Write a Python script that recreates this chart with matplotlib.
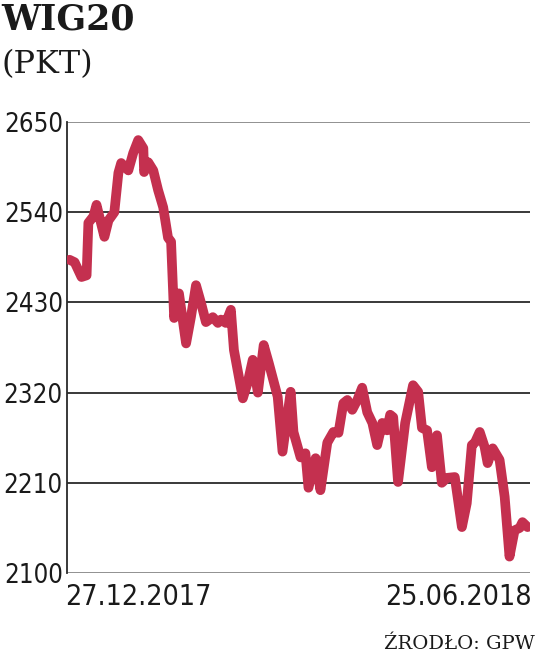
import matplotlib.pyplot as plt

# WIG20, punkty; dni od 27.12.2017
dni = [0, 2.0, 4.7, 6.7, 7.4, 9.4, 10.6, 11.7, 13.7, 15.3, 17.6, 19.2, 20.3, 23.1,
       25.0, 27.0, 29.0, 29.3, 30.9, 32.9, 34.8, 36.8, 38.7, 39.9, 40.7, 41.1, 43.0,
       45.8, 47.7, 49.7, 51.7, 53.6, 56.3, 58.3, 59.5, 61.4, 63.4, 64.6, 68.1, 70.0,
       72.0, 74.0, 76.3, 78.3, 81.8, 83.7, 86.9, 88.0, 90.8, 92.7, 93.9, 96.7, 98.6,
       101.3, 103.7, 105.7, 107.6, 109.2, 111.1, 113.1, 115.0, 117.0, 119.0, 120.9,
       122.9, 124.8, 126.0, 127.2, 129.1, 131.9, 135.0, 137.0, 138.5, 140.5, 142.4,
       144.4, 146.3, 148.3, 151.4, 154.2, 156.1, 158.1, 159.3, 161.2, 163.1, 164.3,
       166.3, 169.0, 171.0, 172.9, 174.9, 176.9, 178.0, 180.0]
wig20 = [2482, 2479, 2461, 2463, 2527, 2535, 2549, 2535, 2510, 2530, 2540, 2588, 2600, 2591,
         2612, 2628, 2618, 2589, 2601, 2591, 2567, 2546, 2509, 2504, 2443, 2411, 2441,
         2380, 2412, 2451, 2429, 2406, 2412, 2405, 2409, 2405, 2421, 2372, 2313, 2332,
         2360, 2320, 2378, 2356, 2315, 2248, 2321, 2272, 2241, 2246, 2204, 2240, 2201,
         2259, 2272, 2271, 2307, 2311, 2299, 2311, 2326, 2296, 2283, 2256,
         2283, 2274, 2293, 2290, 2211, 2283, 2329, 2321, 2277, 2274, 2229,
         2268, 2210, 2216, 2217, 2156, 2185, 2256, 2259, 2272, 2254, 2234,
         2252, 2238, 2193, 2120, 2152, 2155, 2162, 2156]
poziomy = [2100, 2210, 2320, 2430, 2540, 2650]
daty = ['27.12.2017', '25.06.2018']

fig = plt.figure(figsize=(5.36, 6.55), dpi=100)
ax = fig.add_axes([0.125, 0.1252, 0.864, 0.6885])

for p in poziomy:
    kolor = '#888888' if p in (2100, 2650) else '#2a2a2a'
    ax.axhline(p, color=kolor, lw=1.3, zorder=1)

ax.plot(dni, wig20, color='#c4304f', lw=7, solid_joinstyle='round',
        solid_capstyle='round', zorder=3)

ax.set_xlim(-1, 181)
ax.set_ylim(2100, 2650)
for s in ['top', 'right', 'bottom']:
    ax.spines[s].set_visible(False)
ax.spines['left'].set_color('#2a2a2a')
ax.spines['left'].set_linewidth(1.3)
ax.set_yticks(poziomy)
ax.set_yticklabels([str(p) for p in poziomy], family='DejaVu Sans',
                   stretch='condensed', fontsize=18.5, color='#1a1a1a')
ax.tick_params(axis='y', length=0, pad=3)
ax.set_xticks([])

fs_daty = dict(family='DejaVu Sans', stretch='condensed', fontsize=20.5,
               color='#1a1a1a', va='top')
fig.text(65 / 536, 1 - 583 / 655, daty[0], ha='left', **fs_daty)
fig.text(532 / 536, 1 - 583 / 655, daty[1], ha='right', **fs_daty)

fig.text(0.003, 1 - 2 / 655, 'WIG20', family='DejaVu Serif', weight='bold',
         fontsize=25, va='top', color='#1a1a1a')
fig.text(0.003, 1 - 49 / 655, '(PKT)', family='DejaVu Serif',
         fontsize=23, va='top', color='#1a1a1a')
fig.text(535 / 536, 2 / 655, 'ŹRODŁO: GPW', family='DejaVu Serif',
         fontsize=14, ha='right', va='bottom', color='#1a1a1a')

fig.savefig('out.png', dpi=100)
